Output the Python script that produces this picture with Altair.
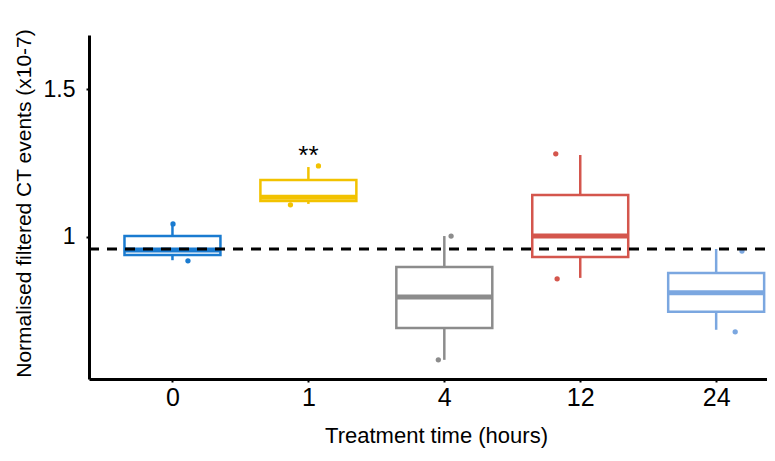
import json
import altair as alt
import pandas as pd

# ---- data ----
groups = ["0", "1", "4", "12", "24"]
colors = ["#1a7bd0", "#f2c200", "#8c8c8c", "#d4564d", "#7ba7e0"]
whisker_low = [0.920, 1.111, 0.582, 0.860, 0.684]
q1 = [0.938, 1.121, 0.690, 0.931, 0.745]
median = [0.955, 1.134, 0.795, 1.002, 0.810]
q3 = [1.002, 1.192, 0.897, 1.141, 0.877]
whisker_high = [1.043, 1.236, 1.002, 1.277, 0.958]

pt_group = ["0", "0", "1", "1", "4", "4", "12", "12", "24", "24"]
pt_value = [1.043, 0.918, 1.240, 1.108, 1.002, 0.582, 1.281, 0.857, 0.951, 0.677]
pt_jitter = [0.004, 0.114, 0.074, -0.132, 0.05, -0.044, -0.18, -0.17, 0.19, 0.14]

reference_value = 0.958
annot_group = ["1"]
annot_value = [1.287]
annot_text = ["**"]

# ---- layout constants ----
W, H = 678, 344
HALF = 0.353
FONT = "Liberation Sans"

idx = {g: i for i, g in enumerate(groups)}
box_df = pd.DataFrame({
    "group": groups,
    "pos": list(range(len(groups))),
    "lo": whisker_low, "q1": q1, "med": median, "q3": q3, "hi": whisker_high,
})
box_df["x_lo"] = box_df["pos"] - HALF
box_df["x_hi"] = box_df["pos"] + HALF

pt_df = pd.DataFrame({"group": pt_group, "value": pt_value, "jit": pt_jitter})
pt_df["x"] = [idx[g] + j for g, j in zip(pt_group, pt_jitter)]

ann_df = pd.DataFrame({"group": annot_group, "value": annot_value, "label": annot_text})
ann_df["x"] = [idx[g] for g in annot_group]

ref_df = pd.DataFrame({"ref": [reference_value]})

xscale = alt.Scale(domain=[-0.614, 4.374], nice=False, zero=False)
yscale = alt.Scale(domain=[0.517, 1.684], nice=False, zero=False)
cscale = alt.Scale(domain=groups, range=colors)

label_expr = json.dumps(groups) + "[datum.value]"

xaxis = alt.Axis(
    values=list(range(len(groups))), labelExpr=label_expr, grid=False,
    domainColor="black", domainWidth=3, tickColor="black", tickWidth=2, tickSize=3,
    labelFont=FONT, labelFontSize=25, labelColor="black", labelPadding=3,
    title="Treatment time (hours)", titleFont=FONT, titleFontSize=22,
    titleFontWeight="normal", titleColor="black",
    titleX=347, titleY=56, titleBaseline="middle",
)
yaxis = alt.Axis(
    values=[1, 1.5], labelExpr="datum.value", grid=False,
    domainColor="black", domainWidth=3, tickColor="black", tickWidth=2, tickSize=3,
    labelFont=FONT, labelFontSize=23, labelColor="black", labelPadding=11,
    title="Normalised filtered CT events (x10-7)", titleFont=FONT, titleFontSize=21,
    titleFontWeight="normal", titleColor="black",
    titleX=-65, titleY=168, titleAngle=-90, titleBaseline="middle",
)

base = alt.Chart(box_df)

whisk = base.mark_rule(strokeWidth=2.5).encode(
    x=alt.X("pos:Q", scale=xscale, axis=xaxis),
    y=alt.Y("lo:Q", scale=yscale, axis=yaxis),
    y2="hi:Q",
    color=alt.Color("group:N", scale=cscale, legend=None),
)
box = base.mark_rect(fill="white", strokeWidth=2.5).encode(
    x="x_lo:Q", x2="x_hi:Q", y="q1:Q", y2="q3:Q",
    stroke=alt.Stroke("group:N", scale=cscale, legend=None),
)
med = base.mark_rule(strokeWidth=5).encode(
    x="x_lo:Q", x2="x_hi:Q", y="med:Q",
    color=alt.Color("group:N", scale=cscale, legend=None),
)
pts = alt.Chart(pt_df).mark_circle(size=28, opacity=1).encode(
    x="x:Q", y="value:Q",
    color=alt.Color("group:N", scale=cscale, legend=None),
)
ref = alt.Chart(ref_df).mark_rule(color="black", strokeWidth=3, strokeDash=[10, 8]).encode(
    y="ref:Q", x=alt.value(0), x2=alt.value(W),
)
ann = alt.Chart(ann_df).mark_text(font=FONT, fontSize=26, color="black", baseline="middle", dy=4).encode(
    x="x:Q", y="value:Q", text="label:N",
)

chart = alt.layer(whisk, box, med, pts, ref, ann).properties(
    width=W, height=H,
    autosize=alt.AutoSizeParams(type="none"),
    padding={"left": 81, "top": 27, "right": 0, "bottom": 72},
).configure_view(stroke=None)

chart.save("out.html", embed_options={"renderer": "svg", "actions": False})
